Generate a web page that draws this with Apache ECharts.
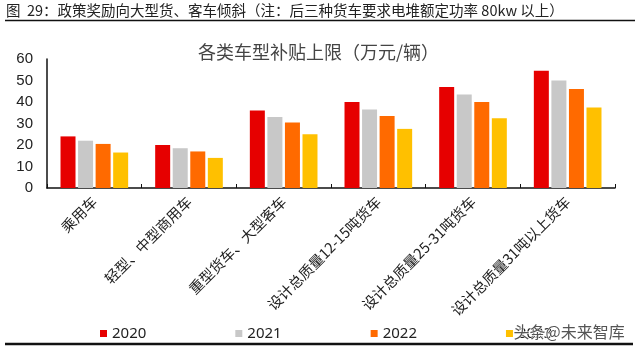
<!DOCTYPE html>
<html>
<head>
<meta charset="utf-8">
<script src="https://cdn.jsdelivr.net/npm/echarts@6/dist/echarts.min.js"></script>
<style>
html, body { margin: 0; padding: 0; background: #fff; }
#chart { width: 640px; height: 353px; }
</style>
</head>
<body>
<div id="chart"></div>
<script>
// 车型分类
var categories = ['乘用车', '轻型、中型商用车', '重型货车、大型客车',
    '设计总质量12-15吨货车', '设计总质量25-31吨货车', '设计总质量31吨以上货车'];
var years = ['2020', '2021', '2022', '2023'];
// 补贴上限 (万元/辆)
var data_2020 = [24, 20, 36, 40, 47, 54.5];
var data_2021 = [22, 18.5, 33, 36.5, 43.5, 50];
var data_2022 = [20.5, 17, 30.5, 33.5, 40, 46];
var data_2023 = [16.5, 14, 25, 27.5, 32.5, 37.5];
var yTicks = [0, 10, 20, 30, 40, 50, 60];

var colors = ['#e60000', '#c8c8c8', '#ff6a00', '#ffc000'];
var cjk = '"Noto Sans CJK SC", "Liberation Sans", sans-serif';

function make_series(name, data, color) {
    return {
        name: name,
        type: 'bar',
        data: data,
        barWidth: 15,
        barGap: '17%',
        itemStyle: { color: color }
    };
}

var chart = echarts.init(document.getElementById('chart'));
chart.setOption({
    backgroundColor: '#fff',
    animation: false,
    color: colors,
    textStyle: { fontFamily: cjk },
    title: {
        text: '各类车型补贴上限（万元/辆）',
        left: 193,
        top: 38,
        textStyle: { fontSize: 18, fontWeight: 'normal', color: '#444', fontFamily: cjk }
    },
    grid: { left: 47, right: 25, top: 59, bottom: 165 },
    legend: {
        data: years,
        left: 95,
        top: 321,
        width: 600,
        icon: 'rect',
        itemWidth: 7,
        itemHeight: 7,
        itemGap: 89,
        textStyle: { fontSize: 15, color: '#222', fontFamily: '"Noto Sans", "Liberation Sans", sans-serif' }
    },
    xAxis: {
        type: 'category',
        data: categories,
        axisLine: { lineStyle: { color: '#111', width: 1.5 } },
        axisTick: { show: true, inside: true, length: 4, interval: 0, lineStyle: { color: '#111' } },
        axisLabel: {
            interval: 0,
            rotate: 45,
            margin: 11,
            fontSize: 14.5,
            color: '#222',
            fontFamily: cjk
        }
    },
    yAxis: {
        type: 'value',
        min: yTicks[0],
        max: yTicks[yTicks.length - 1],
        interval: 10,
        splitLine: { show: false },
        axisLine: { show: true, lineStyle: { color: '#111', width: 1.5 } },
        axisTick: { show: false },
        axisLabel: {
            fontSize: 15,
            color: '#222',
            margin: 14,
            fontFamily: '"Liberation Sans", Arial, sans-serif'
        }
    },
    series: [
        make_series(years[0], data_2020, colors[0]),
        make_series(years[1], data_2021, colors[1]),
        make_series(years[2], data_2022, colors[2]),
        make_series(years[3], data_2023, colors[3])
    ],
    graphic: [
        {
            type: 'text',
            left: 6,
            top: 3,
            style: {
                text: '图  29：政策奖励向大型货、客车倾斜（注：后三种货车要求电堆额定功率 80kw 以上）',
                font: '14.5px ' + cjk,
                fill: '#222'
            }
        },
        {
            type: 'line',
            shape: { x1: 5, y1: 20.5, x2: 635, y2: 20.5 },
            style: { stroke: '#111', lineWidth: 1.5 }
        },
        {
            type: 'line',
            shape: { x1: 5, y1: 344, x2: 633, y2: 344 },
            style: { stroke: '#111', lineWidth: 2.5 }
        },
        {
            type: 'text',
            left: 513,
            top: 323,
            z: 100,
            style: {
                text: '头条@未来智库',
                font: '16px ' + cjk,
                fill: '#555',
                stroke: '#fff',
                lineWidth: 1
            }
        }
    ]
});
</script>
</body>
</html>
